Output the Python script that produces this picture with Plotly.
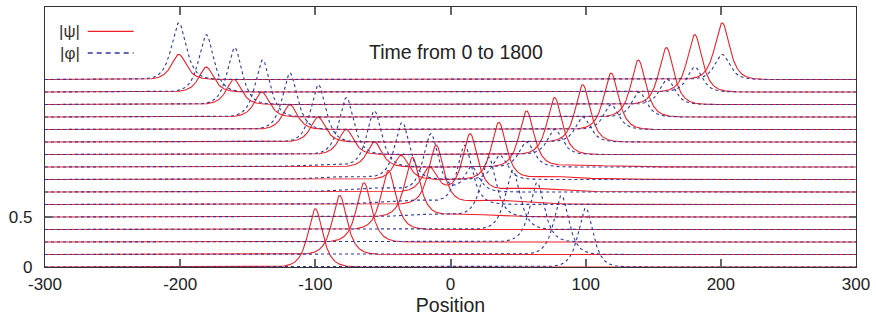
import numpy as np
import plotly.graph_objects as go

# ---- data ----
times = [0, 120, 240, 360, 480, 600, 720, 840, 960, 1080, 1200, 1320, 1440, 1560, 1680, 1800]
# main |psi| soliton (moving right)
psi_main_pos = [-100, -82, -64, -46, -28.2, -10.6, 14.5, 35.7, 56.3, 77.0, 97.8, 118.8, 139.0, 159.7, 180.7, 201.0]
psi_main_amp = [0.583, 0.59, 0.593, 0.59, 0.59, 0.585, 0.574, 0.565, 0.557, 0.57, 0.574, 0.565, 0.57, 0.569, 0.574, 0.566]
# secondary |psi| hump (travelling left after the collision)
psi_side_pos = [None, None, None, None, None, None, -15.6, -36.5, -56.2, -77.2, -98.0, -118.8, -139.6, -160.3, -180.7, -201.0]
psi_side_amp = [0, 0, 0, 0, 0, 0, 0.25, 0.242, 0.25, 0.252, 0.25, 0.249, 0.25, 0.252, 0.25, 0.252]
# low |psi| shelf left behind on the right of the main hump
psi_shelf_pos = [None, None, None, None, 10, 30, 55, 75, 95, None, None, None, None, None, None, None]
psi_shelf_amp = [0, 0, 0, 0, 0.03, 0.045, 0.04, 0.03, 0.02, 0, 0, 0, 0, 0, 0, 0]
# main |phi| soliton (moving left)
phi_main_pos = [100, 82, 64, 46, 28.2, 10.6, -14.5, -35.7, -56.3, -77.0, -97.8, -118.8, -139.0, -159.7, -180.7, -201.0]
phi_main_amp = [0.59, 0.59, 0.593, 0.59, 0.59, 0.585, 0.574, 0.565, 0.557, 0.57, 0.574, 0.565, 0.57, 0.569, 0.574, 0.566]
# secondary |phi| hump (travelling right after the collision)
phi_side_pos = [None, None, None, None, None, None, 15.6, 36.5, 56.2, 77.2, 98.0, 118.8, 139.6, 160.3, 180.7, 201.0]
phi_side_amp = [0, 0, 0, 0, 0, 0, 0.25, 0.242, 0.25, 0.252, 0.25, 0.249, 0.25, 0.252, 0.25, 0.252]
# low |phi| shelf on the left of the main hump
phi_shelf_pos = [None, None, None, None, -10, -30, -55, -75, -95, None, None, None, None, None, None, None]
phi_shelf_amp = [0, 0, 0, 0, 0.03, 0.045, 0.04, 0.03, 0.02, 0, 0, 0, 0, 0, 0, 0]

x_ticks = [-300, -200, -100, 0, 100, 200, 300]
x_ticklabels = ["-300", "-200", "-100", "0", "100", "200", "300"]
y_ticks = [0, 0.5]
y_ticklabels = ["0", "0.5"]

# ---- drawing parameters ----
STEP = 0.125      # vertical shift between successive times
WIDTH = 4.8       # soliton width
SHELF_WIDTH = 18.0
RED = "rgb(238,32,40)"
BLUE = "rgb(44,56,164)"
FONT = "Liberation Sans, Arial, Helvetica"

x = np.linspace(-300, 300, 2401)


def hump(c, a, w=WIDTH):
    if c is None or a == 0:
        return np.zeros_like(x)
    return a / np.cosh((x - c) / w)


fig = go.Figure()
for k, t in enumerate(times):
    base = k * STEP
    y_psi = (base + hump(psi_main_pos[k], psi_main_amp[k]) + hump(psi_side_pos[k], psi_side_amp[k])
             + hump(psi_shelf_pos[k], psi_shelf_amp[k], SHELF_WIDTH))
    y_phi = (base + hump(phi_main_pos[k], phi_main_amp[k]) + hump(phi_side_pos[k], phi_side_amp[k])
             + hump(phi_shelf_pos[k], phi_shelf_amp[k], SHELF_WIDTH))
    fig.add_trace(go.Scatter(x=x, y=y_psi, mode="lines", line=dict(color=RED, width=1.1),
                             showlegend=False, hoverinfo="skip"))
    fig.add_trace(go.Scatter(x=x, y=y_phi, mode="lines",
                             line=dict(color=BLUE, width=1.1, dash="3px,3px"),
                             showlegend=False, hoverinfo="skip"))

# legend drawn inside the frame (text, then line sample)
fig.add_annotation(x=-281.7, y=2.36, text="|ψ|", showarrow=False,
                   font=dict(size=17, color="#333", family=FONT))
fig.add_annotation(x=-281.7, y=2.14, text="|φ|", showarrow=False,
                   font=dict(size=17, color="#333", family=FONT))
fig.add_shape(type="line", x0=-268.4, x1=-234.4, y0=2.357, y1=2.357,
              line=dict(color=RED, width=1.3))
fig.add_shape(type="line", x0=-268.4, x1=-234.4, y0=2.14, y1=2.14,
              line=dict(color=BLUE, width=1.3, dash="5px,4px"))

fig.add_annotation(x=3.7, y=2.15, text="Time from 0 to 1800", showarrow=False,
                   font=dict(size=19.5, color="#222", family=FONT))

fig.update_layout(
    width=876, height=320,
    margin=dict(l=45, r=20, t=7, b=53),
    paper_bgcolor="white", plot_bgcolor="white",
    font=dict(family=FONT, size=17, color="#222"),
    showlegend=False,
)
fig.update_xaxes(range=[-300, 300], tickvals=x_ticks, ticktext=x_ticklabels,
                 ticks="inside", ticklen=8,
                 tickcolor="#666", tickwidth=1.5, showline=True, mirror="ticks",
                 linecolor="#333", linewidth=1.4, showgrid=False, zeroline=False,
                 title=dict(text="Position", standoff=3, font=dict(size=19.5)),
                 tickfont=dict(size=17), ticklabelstandoff=1)
fig.update_yaxes(range=[0, 2.6], tickvals=y_ticks, ticktext=y_ticklabels, ticks="inside",
                 ticklen=7, tickcolor="#666", tickwidth=1.5, showline=True, mirror="ticks",
                 linecolor="#333", linewidth=1.4, showgrid=False, zeroline=False,
                 tickfont=dict(size=17), ticklabelstandoff=8)

fig.write_html("out.html", config={"displayModeBar": False},
               post_script="document.body.style.margin='0';document.body.style.padding='0';")
